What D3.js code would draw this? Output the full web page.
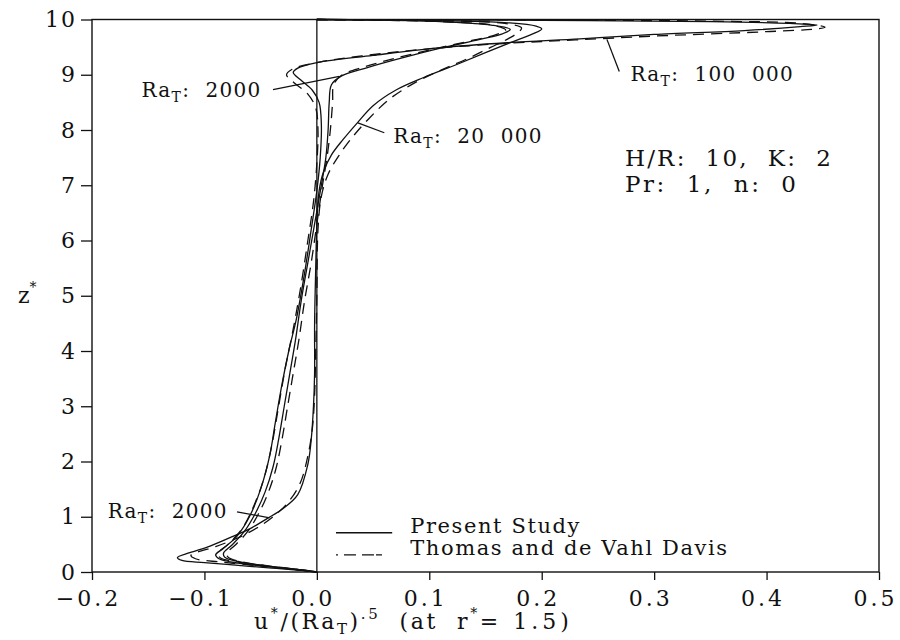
<!DOCTYPE html>
<html>
<head>
<meta charset="utf-8">
<script src="https://cdn.jsdelivr.net/npm/d3@7"></script>
<style>
  body { margin: 0; background: #fff; }
  svg { font-family: "DejaVu Serif", serif; }
</style>
</head>
<body>
<div id="chart"></div>
<script>
// tick values
const xTicks = [-0.2, -0.1, 0.0, 0.1, 0.2, 0.3, 0.4, 0.5];
const yTicks = [0, 1, 2, 3, 4, 5, 6, 7, 8, 9, 10];

// profiles [u*/Ra^.5, z*], top to bottom
const ra100kPresent = [[0,10],[0.03,9.995],[0.2,9.985],[0.35,9.96],[0.42,9.93],[0.445,9.9],[0.43,9.87],[0.38,9.8],[0.3,9.73],[0.234,9.65],[0.17,9.58],[0.11,9.49],[0.05,9.35],[0.0,9.22],[-0.017,9.12],[-0.021,9.04],[-0.014,8.9],[-0.004,8.72],[0.002,8.5],[0.004,8.1],[0.003,7.5],[0.0,6.9],[-0.005,6.2],[-0.011,5.4],[-0.018,4.6],[-0.025,4.0],[-0.031,3.4],[-0.037,2.7],[-0.042,2.1],[-0.05,1.5],[-0.06,1.0],[-0.071,0.65],[-0.083,0.43],[-0.09,0.31],[-0.087,0.24],[-0.07,0.16],[-0.045,0.1],[-0.02,0.05],[-0.005,0.015],[0,0]];
const ra100kThomas = [[0,10],[0.05,9.995],[0.2,9.99],[0.35,9.97],[0.43,9.93],[0.452,9.86],[0.445,9.83],[0.4,9.78],[0.3,9.7],[0.23,9.63],[0.17,9.57],[0.1,9.47],[0.04,9.34],[0.0,9.22],[-0.022,9.1],[-0.027,9.0],[-0.02,8.85],[-0.008,8.65],[-0.001,8.4],[0.001,8.0],[0.0,7.4],[-0.003,6.7],[-0.008,6.0],[-0.014,5.2],[-0.021,4.4],[-0.028,3.7],[-0.034,3.0],[-0.04,2.3],[-0.047,1.7],[-0.056,1.2],[-0.066,0.8],[-0.079,0.5],[-0.088,0.34],[-0.086,0.26],[-0.07,0.18],[-0.045,0.11],[-0.02,0.05],[0,0]];
const ra20kPresent = [[0,10],[0.05,9.995],[0.12,9.975],[0.17,9.94],[0.195,9.88],[0.2,9.83],[0.192,9.74],[0.172,9.58],[0.15,9.4],[0.125,9.19],[0.095,8.95],[0.07,8.72],[0.05,8.44],[0.036,8.13],[0.023,7.82],[0.013,7.55],[0.006,7.25],[0.002,6.9],[0.0,6.3],[-0.001,5.5],[-0.002,4.5],[-0.002,3.6],[-0.003,3.0],[-0.005,2.4],[-0.008,1.95],[-0.017,1.4],[-0.03,1.15],[-0.044,0.97],[-0.058,0.8],[-0.073,0.66],[-0.095,0.47],[-0.113,0.35],[-0.124,0.26],[-0.12,0.21],[-0.1,0.17],[-0.07,0.12],[-0.04,0.07],[-0.015,0.03],[0,0]];
const ra20kThomas = [[0,10],[0.06,9.99],[0.13,9.97],[0.17,9.92],[0.182,9.85],[0.18,9.78],[0.17,9.65],[0.155,9.5],[0.135,9.3],[0.11,9.08],[0.085,8.83],[0.064,8.55],[0.046,8.2],[0.032,7.88],[0.02,7.55],[0.01,7.2],[0.004,6.8],[0.001,6.2],[0.0,5.0],[-0.001,4.0],[-0.002,3.2],[-0.004,2.6],[-0.008,2.1],[-0.015,1.6],[-0.026,1.25],[-0.039,1.0],[-0.053,0.8],[-0.07,0.62],[-0.09,0.46],[-0.106,0.36],[-0.112,0.3],[-0.108,0.24],[-0.085,0.18],[-0.05,0.11],[-0.02,0.05],[0,0]];
const ra2kPresent = [[0,10],[0.05,9.99],[0.11,9.96],[0.155,9.9],[0.172,9.82],[0.165,9.74],[0.145,9.64],[0.11,9.48],[0.075,9.3],[0.045,9.13],[0.022,8.98],[0.013,8.82],[0.011,8.5],[0.01,8.0],[0.008,7.5],[0.004,7.0],[-0.002,6.3],[-0.008,5.6],[-0.014,4.9],[-0.019,4.2],[-0.024,3.6],[-0.029,3.0],[-0.034,2.4],[-0.039,1.9],[-0.046,1.45],[-0.055,1.05],[-0.065,0.72],[-0.076,0.48],[-0.083,0.34],[-0.082,0.27],[-0.07,0.19],[-0.045,0.11],[-0.02,0.05],[0,0]];
const ra2kThomas = [[0,10],[0.06,9.985],[0.12,9.955],[0.158,9.89],[0.168,9.81],[0.16,9.73],[0.14,9.63],[0.105,9.47],[0.07,9.3],[0.042,9.14],[0.022,8.99],[0.015,8.82],[0.014,8.5],[0.012,8.0],[0.009,7.5],[0.005,7.0],[0.0,6.3],[-0.005,5.6],[-0.011,4.9],[-0.016,4.2],[-0.021,3.6],[-0.026,3.0],[-0.031,2.4],[-0.036,1.9],[-0.043,1.45],[-0.052,1.05],[-0.062,0.72],[-0.073,0.48],[-0.08,0.34],[-0.079,0.27],[-0.068,0.19],[-0.043,0.11],[-0.018,0.05],[0,0]];

const presentSeries = [ra100kPresent, ra20kPresent, ra2kPresent];
const thomasSeries = [ra100kThomas, ra20kThomas, ra2kThomas];

const width = 900, height = 640,
  margin = ({top: 19.5, right: 21, bottom: 68, left: 92});

let svg = d3.select("#chart").append("svg")
  .attr("width", width).attr("height", height)
  .attr("viewBox", [0, 0, width, height]);

let x = d3.scaleLinear().domain([-0.2, 0.5]).range([margin.left, width - margin.right]);
let y = d3.scaleLinear().domain([0, 10]).range([height - margin.bottom, margin.top]);

// frame
svg.append("rect")
  .attr("x", x(-0.2)).attr("y", y(10))
  .attr("width", x(0.5) - x(-0.2)).attr("height", y(0) - y(10))
  .attr("fill", "none").attr("stroke", "#111").attr("stroke-width", 1.4);

// u = 0 line
svg.append("line")
  .attr("x1", x(0)).attr("x2", x(0)).attr("y1", y(0)).attr("y2", y(10))
  .attr("stroke", "#111").attr("stroke-width", 1.3);

// axes
const xAxis = g => g
  .attr("transform", `translate(0, ${y(0)})`)
  .call(d3.axisBottom(x).tickValues(xTicks).tickFormat(d3.format(".1f")).tickSize(8).tickPadding(10))
  .call(g => g.select(".domain").remove())
  .call(g => g.selectAll(".tick text").attr("dx", -4).attr("letter-spacing", 3));

const yAxis = g => g
  .attr("transform", `translate(${x(-0.2)}, 0)`)
  .call(d3.axisLeft(y).tickValues(yTicks).tickSize(11).tickPadding(4))
  .call(g => g.select(".domain").remove())
  .call(g => g.selectAll(".tick text").attr("letter-spacing", 2));

svg.append("g").call(xAxis);
svg.append("g").call(yAxis);

svg.selectAll(".tick line").attr("stroke", "#111").attr("stroke-width", 1.3);
svg.selectAll(".tick text")
  .attr("font-family", "DejaVu Serif")
  .attr("font-size", 22)
  .attr("fill", "#111");

// profiles
const line = d3.line()
  .x(d => x(d[0]))
  .y(d => y(d[1]))
  .curve(d3.curveCatmullRom.alpha(0.5));

svg.append("g").selectAll("path")
  .data(presentSeries)
  .join("path")
  .attr("d", line)
  .attr("fill", "none")
  .attr("stroke", "#111")
  .attr("stroke-width", 1.3);

svg.append("g").selectAll("path")
  .data(thomasSeries)
  .join("path")
  .attr("d", line)
  .attr("fill", "none")
  .attr("stroke", "#111")
  .attr("stroke-width", 1.3)
  .attr("stroke-dasharray", "11,7");

// Ra labels with leader lines
const raLabels = [
  {text: "2000", u: -0.156, z: 8.6, from: [-0.039, 8.73], to: [0.02, 8.97]},
  {text: "20 000", u: 0.068, z: 7.77, from: [0.0365, 8.13], to: [0.06, 7.95]},
  {text: "100 000", u: 0.279, z: 8.88, from: [0.258, 9.64], to: [0.269, 9.06]},
  {text: "2000", u: -0.186, z: 0.98, from: [-0.071, 1.09], to: [-0.042, 0.98]}
];

raLabels.forEach(l => {
  svg.append("line")
    .attr("x1", x(l.from[0])).attr("y1", y(l.from[1]))
    .attr("x2", x(l.to[0])).attr("y2", y(l.to[1]))
    .attr("stroke", "#111").attr("stroke-width", 1.3);
  let t = svg.append("text")
    .attr("x", x(l.u)).attr("y", y(l.z))
    .attr("font-size", 20).attr("letter-spacing", 1.3).attr("fill", "#111");
  t.append("tspan").text("Ra");
  t.append("tspan").attr("font-size", 14).attr("dy", 5).text("T");
  t.append("tspan").attr("dy", -5).text(":\u00a0\u00a0" + l.text.replace(" ", "\u00a0\u00a0"));
});

// parameters
svg.append("text")
  .attr("x", x(0.274)).attr("y", y(7.34))
  .attr("font-size", 23).attr("letter-spacing", 2.2).attr("fill", "#111")
  .text("H/R:\u00a0\u00a010,\u00a0\u00a0K:\u00a0\u00a02");
svg.append("text")
  .attr("x", x(0.274)).attr("y", y(6.87))
  .attr("font-size", 23).attr("letter-spacing", 2.6).attr("fill", "#111")
  .text("Pr:\u00a0\u00a01,\u00a0\u00a0n:\u00a0\u00a00");

// legend
const legendRows = [
  {label: "Present Study", z: 0.71, dash: null},
  {label: "Thomas and de Vahl Davis", z: 0.31, dash: "2,6,12,6,12"}
];
legendRows.forEach(r => {
  svg.append("line")
    .attr("x1", x(0.017)).attr("x2", x(0.067))
    .attr("y1", y(r.z)).attr("y2", y(r.z))
    .attr("stroke", "#111").attr("stroke-width", 1.4)
    .attr("stroke-dasharray", r.dash);
  svg.append("text")
    .attr("x", x(0.083)).attr("y", y(r.z))
    .attr("font-size", 21).attr("letter-spacing", 1.6).attr("fill", "#111")
    .text(r.label);
});

// axis titles
let xt = svg.append("text")
  .attr("x", 254).attr("y", 629)
  .attr("font-size", 22).attr("letter-spacing", 2.6).attr("fill", "#111");
xt.append("tspan").text("u");
xt.append("tspan").attr("font-size", 14).attr("dy", -11).text("*");
xt.append("tspan").attr("dy", 11).text("/(Ra");
xt.append("tspan").attr("font-size", 15).attr("dy", 5).text("T");
xt.append("tspan").attr("dy", -5).text(")");
xt.append("tspan").attr("font-size", 15).attr("dy", -10).text(".5");
xt.append("tspan").attr("dy", 10).text("\u00a0\u00a0(at\u00a0\u00a0r");
xt.append("tspan").attr("font-size", 14).attr("dy", -11).text("*");
xt.append("tspan").attr("dy", 11).attr("letter-spacing", 4).text("=\u00a01.5)");

let yt = svg.append("text")
  .attr("x", 18).attr("y", 303)
  .attr("font-size", 22).attr("fill", "#111");
yt.append("tspan").text("z");
yt.append("tspan").attr("font-size", 14).attr("dy", -11).text("*");
</script>
</body>
</html>
